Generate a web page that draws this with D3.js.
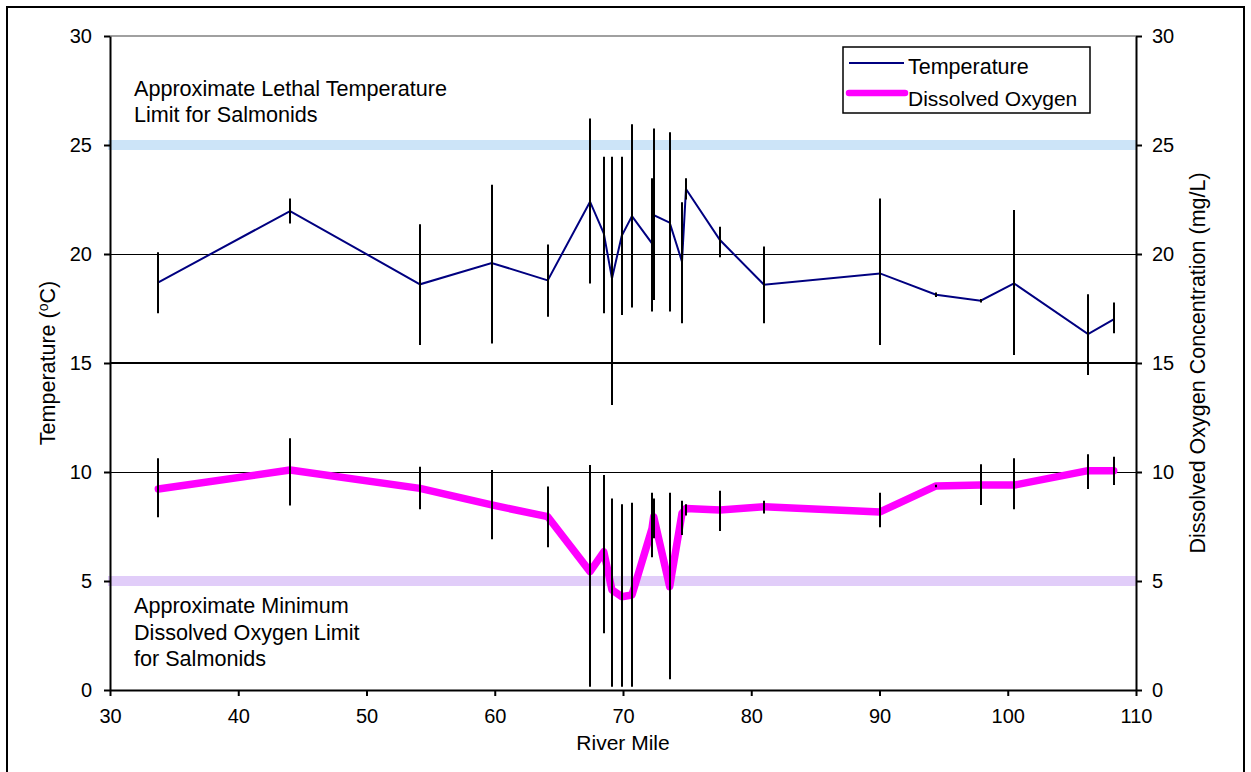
<!DOCTYPE html>
<html lang="en">
<head>
<meta charset="utf-8">
<title>temperature and dissolved oxygen</title>
<script src="https://d3js.org/d3.v7.min.js"></script>
<style>
  body { margin: 0; background: #fff; font-family: "Liberation Sans", Arial, sans-serif; }
  svg text { font-family: "Liberation Sans", Arial, sans-serif; fill: #000; }
</style>
</head>
<body>
<div id="chart"></div>
<script>
// river mile of each station
var miles = [33.77, 44.04, 54.17, 59.76, 64.13, 67.43, 68.50, 69.14, 69.90, 70.70, 72.26, 72.39,
             73.64, 74.60, 74.91, 77.56, 80.99, 90.04, 94.41, 97.89, 100.49, 106.26, 108.26]
// temperature (C) mean, min, max
var temp   = [18.70, 21.97, 18.61, 19.59, 18.79, 22.40, 20.95, 18.88, 20.83, 21.74, 20.49, 21.79,
              21.44, 19.65, 22.98, 20.64, 18.59, 19.11, 18.13, 17.86, 18.65, 16.33, 17.00]
var tempLo = [17.28, 21.40, 15.83, 15.90, 17.12, 18.65, 17.28, 13.07, 17.20, 17.55, 17.36, 17.89,
              17.36, 16.82, 22.50, 19.85, 16.82, 15.83, 18.03, 17.78, 15.37, 14.45, 16.36]
var tempHi = [20.08, 22.55, 21.36, 23.18, 20.44, 26.22, 24.46, 24.46, 24.46, 25.95, 23.47, 25.76,
              25.58, 22.37, 23.47, 21.25, 20.34, 22.55, 18.23, 17.94, 22.02, 18.15, 17.78]
// dissolved oxygen (mg/L) mean, min, max
var oxy    = [9.22, 10.09, 9.25, 8.49, 7.95, 5.43, 6.34, 4.59, 4.28, 4.36, 7.40, 7.95,
              4.74, 8.10, 8.33, 8.26, 8.41, 8.17, 9.36, 9.40, 9.40, 10.06, 10.06]
var oxyLo  = [7.92, 8.46, 8.29, 6.91, 6.55, 0.15, 2.60, 0.15, 0.15, 0.15, 6.09, 6.96,
              0.49, 7.11, 8.00, 7.29, 8.10, 7.46, 9.30, 8.49, 8.29, 9.22, 9.40]
var oxyHi  = [10.63, 11.55, 10.24, 10.09, 9.33, 10.32, 9.86, 8.79, 8.52, 8.59, 9.05, 8.79,
              9.05, 8.68, 8.52, 9.14, 8.68, 9.05, 9.42, 10.35, 10.63, 10.81, 10.70]

var xTicks = [30, 40, 50, 60, 70, 80, 90, 100, 110]
var yTicks = [0, 5, 10, 15, 20, 25, 30]
var tempLimit = 25
var oxyLimit = 5

var W = 1251, H = 772
var m = {left: 110, right: 1136, top: 36, bottom: 690}

var x = d3.scaleLinear().domain([30, 110]).range([m.left, m.right])
var y = d3.scaleLinear().domain([0, 30]).range([m.bottom, m.top])

var svg = d3.select("#chart").append("svg")
  .attr("width", W).attr("height", H)

// outer frame
svg.append("rect")
  .attr("x", 7).attr("y", 7).attr("width", 1237).attr("height", 790)
  .attr("fill", "none").attr("stroke", "#000").attr("stroke-width", 2)

// gridlines
svg.selectAll("line.grid")
  .data([10, 15, 20])
  .enter().append("line")
  .attr("x1", m.left).attr("x2", m.right)
  .attr("y1", function(d){ return y(d) + (d == 15 ? 0 : 0.5) })
  .attr("y2", function(d){ return y(d) + (d == 15 ? 0 : 0.5) })
  .attr("stroke", "#000")
  .attr("stroke-width", function(d){ return d == 15 ? 2 : 1 })

// top border of plot area
svg.append("line")
  .attr("x1", m.left).attr("x2", m.right)
  .attr("y1", y(30)).attr("y2", y(30))
  .attr("stroke", "#808080").attr("stroke-width", 1.5)

// limit bands
svg.append("line")
  .attr("x1", m.left - 2).attr("x2", m.right)
  .attr("y1", y(tempLimit)).attr("y2", y(tempLimit))
  .attr("stroke", "#cce4f8").attr("stroke-width", 10)
svg.append("line")
  .attr("x1", m.left - 2).attr("x2", m.right)
  .attr("y1", y(oxyLimit)).attr("y2", y(oxyLimit))
  .attr("stroke", "#e1cdf9").attr("stroke-width", 10)

var idx = d3.range(miles.length)

// series lines
var tLine = d3.line()
  .x(function(i){ return x(miles[i]) })
  .y(function(i){ return y(temp[i]) })
var oLine = d3.line()
  .x(function(i){ return x(miles[i]) })
  .y(function(i){ return y(oxy[i]) })

svg.append("path")
  .attr("d", oLine(idx))
  .attr("fill", "none").attr("stroke", "#ff00ff")
  .attr("stroke-width", 7.5)
  .attr("stroke-linejoin", "round").attr("stroke-linecap", "round")

svg.append("path")
  .attr("d", tLine(idx))
  .attr("fill", "none").attr("stroke", "#000080")
  .attr("stroke-width", 2)

// error bars on top
svg.selectAll("line.terr")
  .data(idx)
  .enter().append("line")
  .attr("x1", function(i){ return Math.round(x(miles[i])) })
  .attr("x2", function(i){ return Math.round(x(miles[i])) })
  .attr("y1", function(i){ return y(tempLo[i]) })
  .attr("y2", function(i){ return y(tempHi[i]) })
  .attr("stroke", "#000").attr("stroke-width", 2)

svg.selectAll("line.oerr")
  .data(idx)
  .enter().append("line")
  .attr("x1", function(i){ return Math.round(x(miles[i])) })
  .attr("x2", function(i){ return Math.round(x(miles[i])) })
  .attr("y1", function(i){ return y(oxyLo[i]) })
  .attr("y2", function(i){ return y(oxyHi[i]) })
  .attr("stroke", "#000").attr("stroke-width", 2)

// axes
function styleAxis(g){
  g.selectAll("path.domain").attr("stroke", "#000").attr("stroke-width", 2)
  g.selectAll(".tick line").attr("stroke", "#000").attr("stroke-width", 2)
  g.selectAll(".tick text").attr("font-size", "20px")
    .attr("font-family", "Liberation Sans, Arial, sans-serif").attr("fill", "#000")
}

svg.append("g")
  .attr("transform", "translate(" + m.left + ",0)")
  .call(d3.axisLeft(y).tickValues(yTicks).tickSize(6).tickPadding(12).tickSizeOuter(0))
  .call(styleAxis)

svg.append("g")
  .attr("transform", "translate(" + m.right + ",0)")
  .call(d3.axisRight(y).tickValues(yTicks).tickSize(6).tickPadding(10).tickSizeOuter(0))
  .call(styleAxis)

var xg = svg.append("g")
  .attr("transform", "translate(0," + m.bottom + ")")
  .call(d3.axisBottom(x).tickValues(xTicks).tickSize(6).tickPadding(13).tickSizeOuter(0))
  .call(styleAxis)

// axis titles
svg.append("text")
  .attr("x", x(70)).attr("y", 750)
  .attr("text-anchor", "middle").attr("font-size", "21px")
  .text("River Mile")

var lt = svg.append("text")
  .attr("transform", "translate(55,363) rotate(-90)")
  .attr("text-anchor", "middle").attr("font-size", "21.5px")
lt.append("tspan").text("Temperature (")
lt.append("tspan").attr("font-size", "14px").attr("dy", -7).text("o")
lt.append("tspan").attr("dy", 7).text("C)")

svg.append("text")
  .attr("transform", "translate(1205,363) rotate(-90)")
  .attr("text-anchor", "middle").attr("font-size", "21.5px")
  .text("Dissolved Oxygen Concentration (mg/L)")

// annotations
var noteTop = ["Approximate Lethal Temperature", "Limit for Salmonids"]
var noteBot = ["Approximate Minimum", "Dissolved Oxygen Limit", "for Salmonids"]

svg.selectAll("text.nt")
  .data(noteTop)
  .enter().append("text")
  .attr("x", 134).attr("y", function(d, i){ return 96 + i * 26 })
  .attr("font-size", "21.6px")
  .text(function(d){ return d })

svg.selectAll("text.nb")
  .data(noteBot)
  .enter().append("text")
  .attr("x", 134).attr("y", function(d, i){ return 613 + i * 26.5 })
  .attr("font-size", "21.6px")
  .text(function(d){ return d })

// legend
var lg = svg.append("g")
lg.append("rect")
  .attr("x", 843).attr("y", 47).attr("width", 247).attr("height", 66)
  .attr("fill", "#fff").attr("stroke", "#000").attr("stroke-width", 1.5)
lg.append("line")
  .attr("x1", 849).attr("x2", 904).attr("y1", 63).attr("y2", 63)
  .attr("stroke", "#000080").attr("stroke-width", 2)
lg.append("text").attr("x", 908).attr("y", 74).attr("font-size", "21.5px").text("Temperature")
lg.append("line")
  .attr("x1", 849).attr("x2", 905).attr("y1", 93).attr("y2", 93)
  .attr("stroke", "#ff00ff").attr("stroke-width", 6.5).attr("stroke-linecap", "round")
lg.append("text").attr("x", 908).attr("y", 106).attr("font-size", "21px").text("Dissolved Oxygen")
</script>
</body>
</html>
